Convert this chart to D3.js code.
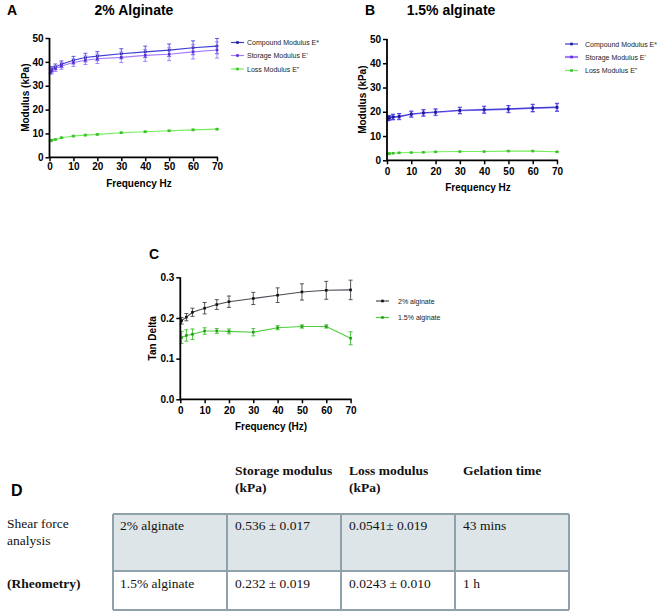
<!DOCTYPE html>
<html><head><meta charset="utf-8">
<script src="https://d3js.org/d3.v7.min.js"></script>
<style>
body{margin:0;background:#fff;}
svg{display:block;}
</style></head>
<body>
<svg id="c" width="661" height="612"></svg>
<script>
// ---------- DATA ----------
const freqAB = [0.5, 1, 2.5, 5, 10, 15, 20, 30, 40, 50, 60, 70];
const aCompound    = [36.3, 37.0, 37.9, 39.0, 40.7, 41.8, 42.4, 43.4, 44.2, 44.9, 45.9, 46.6];
const aCompoundErr = [1.0, 1.0, 1.2, 1.4, 1.6, 1.8, 1.9, 2.1, 2.4, 2.6, 2.9, 3.2];
const aStorage     = [35.8, 36.4, 37.2, 38.3, 39.7, 40.7, 41.3, 41.9, 42.7, 43.2, 44.2, 45.0];
const aStorageErr  = [1.0, 1.1, 1.2, 1.4, 1.6, 1.8, 2.0, 2.2, 2.5, 2.7, 3.0, 3.4];
const aLoss        = [6.9, 7.2, 7.5, 8.2, 8.9, 9.3, 9.6, 10.3, 10.7, 11.1, 11.5, 11.8];
const aLossErr     = [0.2, 0.2, 0.2, 0.3, 0.3, 0.3, 0.3, 0.3, 0.3, 0.3, 0.3, 0.3];

const bCompound    = [17.3, 17.6, 17.9, 18.1, 19.1, 19.6, 19.9, 20.6, 20.9, 21.2, 21.6, 21.9];
const bCompoundErr = [0.9, 0.9, 1.1, 1.2, 1.2, 1.3, 1.3, 1.3, 1.4, 1.4, 1.5, 1.6];
const bStorage     = [17.1, 17.4, 17.7, 17.9, 18.9, 19.4, 19.7, 20.4, 20.7, 21.0, 21.4, 21.7];
const bStorageErr  = [0.9, 0.9, 1.1, 1.2, 1.2, 1.3, 1.3, 1.3, 1.4, 1.4, 1.5, 1.6];
const bLoss        = [2.7, 2.8, 2.9, 3.1, 3.2, 3.3, 3.5, 3.6, 3.6, 3.8, 3.8, 3.5];
const bLossErr     = [0.1, 0.1, 0.1, 0.1, 0.1, 0.1, 0.1, 0.1, 0.1, 0.1, 0.1, 0.1];

const freqC = [0.5, 2.5, 5, 10, 15, 20, 30, 40, 50, 60, 70];
const tan2     = [0.193, 0.202, 0.214, 0.224, 0.233, 0.240, 0.248, 0.256, 0.264, 0.268, 0.269];
const tan2Err  = [0.008, 0.009, 0.010, 0.014, 0.012, 0.014, 0.015, 0.018, 0.020, 0.022, 0.024];
const tan15    = [0.152, 0.157, 0.160, 0.168, 0.168, 0.167, 0.165, 0.176, 0.179, 0.179, 0.150];
const tan15Err = [0.015, 0.014, 0.013, 0.008, 0.006, 0.006, 0.009, 0.005, 0.004, 0.004, 0.016];

const modTicks = [0, 10, 20, 30, 40, 50];
const freqTicks = [0, 10, 20, 30, 40, 50, 60, 70];
const tanTicks = [0.0, 0.1, 0.2, 0.3];
const modLegend = ["Compound Modulus E*", "Storage Modulus E'", "Loss Modulus E\""];
const tanLegend = ["2% alginate", "1.5% alginate"];

const tableHeaders = [["Storage modulus", "(kPa)"], ["Loss modulus", "(kPa)"], ["Gelation time"]];
const tableRowLabels = ["2% alginate", "1.5% alginate"];
const tableStorage = ["0.536 \u00b1 0.017", "0.232 \u00b1 0.019"];
const tableLoss = ["0.0541\u00b1 0.019", "0.0243 \u00b1 0.010"];
const tableGel = ["43 mins", "1 h"];

// ---------- DRAW ----------
const svg = d3.select("#c");
const SANS = "'Liberation Sans', Arial, sans-serif";
const SERIF = "'Liberation Serif', 'Times New Roman', serif";

function panel(o) {
  const g = svg.append("g");
  const x = d3.scaleLinear().domain([0, 70]).range(o.xr);
  const y = d3.scaleLinear().domain(o.yd).range(o.yr);

  // series
  o.series.forEach(s => {
    const pts = s.x.map((fx, i) => ({x: fx, y: s.y[i], e: s.e[i]}));
    const sg = g.append("g");
    sg.append("path").datum(pts)
      .attr("fill", "none").attr("stroke", s.color).attr("stroke-width", 1.1)
      .attr("d", d3.line().x(d => x(d.x)).y(d => y(d.y)));
    const eb = sg.selectAll("g.eb").data(pts).enter().append("g");
    eb.append("line").attr("x1", d => x(d.x)).attr("x2", d => x(d.x))
      .attr("y1", d => y(d.y - d.e)).attr("y2", d => y(d.y + d.e))
      .attr("stroke", s.ecolor).attr("stroke-width", 0.9);
    [-1, 1].forEach(sgn => {
      eb.append("line").attr("x1", d => x(d.x) - 2).attr("x2", d => x(d.x) + 2)
        .attr("y1", d => y(d.y + sgn * d.e)).attr("y2", d => y(d.y + sgn * d.e))
        .attr("stroke", s.ecolor).attr("stroke-width", 0.9);
    });
    sg.selectAll("rect").data(pts).enter().append("rect")
      .attr("x", d => x(d.x) - 1.3).attr("y", d => y(d.y) - 1.3)
      .attr("width", 2.6).attr("height", 2.6).attr("fill", s.mcolor);
  });

  // axes
  const ya = g.append("g").attr("transform", `translate(${o.xr[0]},0)`)
    .call(d3.axisLeft(y).tickValues(o.yTicks).tickSize(4).tickPadding(2).tickFormat(o.yFmt));
  const xa = g.append("g").attr("transform", `translate(0,${o.yr[0]})`)
    .call(d3.axisBottom(x).tickValues(freqTicks).tickSize(4).tickPadding(o.xPad));
  [ya, xa].forEach(a => {
    a.select(".domain").attr("stroke", "#000").attr("stroke-width", 1.8);
    a.selectAll(".tick line").attr("stroke", "#000").attr("stroke-width", 1.5);
    a.selectAll(".tick text").attr("fill", "#000").style("font-family", SANS)
      .style("font-size", "10px").style("font-weight", "bold");
  });
  ya.select(".domain").attr("d", `M0,${o.yr[0]}V${o.yr[1]}`);
  xa.select(".domain").attr("d", `M${o.xr[0]},0H${o.xr[1] + 1}`);

  // labels
  g.append("text").attr("transform", `translate(${o.ylx},${(o.yr[0] + o.yr[1]) / 2}) rotate(-90)`)
    .attr("text-anchor", "middle").attr("dominant-baseline", "central")
    .style("font-family", SANS).style("font-size", "10px").style("font-weight", "bold")
    .text(o.yLabel);
  g.append("text").attr("x", o.xlx).attr("y", o.xly)
    .attr("text-anchor", "middle").attr("dominant-baseline", "central")
    .style("font-family", SANS).style("font-size", "10px").style("font-weight", "bold")
    .text(o.xLabel);

  // legend
  o.legend.forEach((lbl, i) => {
    const s = o.series[i];
    const ly = o.legY[i];
    g.append("line").attr("x1", o.legX).attr("x2", o.legX + 13).attr("y1", ly).attr("y2", ly)
      .attr("stroke", s.color).attr("stroke-width", 1.2);
    g.append("rect").attr("x", o.legX + 5.2).attr("y", ly - 1.3).attr("width", 2.6).attr("height", 2.6)
      .attr("fill", s.mcolor);
    g.append("text").attr("x", o.legTx).attr("y", ly).attr("dominant-baseline", "central")
      .style("font-family", SANS).style("font-size", "7px").attr("fill", "#222").text(lbl);
  });
}

function title(txt, x, y, size, anchor) {
  svg.append("text").attr("x", x).attr("y", y).attr("text-anchor", anchor || "middle")
    .attr("dominant-baseline", "central").style("font-family", SANS)
    .style("font-size", size + "px").style("font-weight", "bold").text(txt);
}

const cComp = "#3b3bd6", mComp = "#1a1a8c";
const cStor = "#a27cff", mStor = "#5a2bd8";
const cLoss = "#72ee5a", mLoss = "#3cc02a";

panel({
  xr: [49.5, 217], yd: [0, 50], yr: [157.3, 38], yTicks: modTicks, yFmt: d3.format("d"),
  xPad: 2, ylx: 25, xlx: 139, xly: 183.5, yLabel: "Modulus (kPa)", xLabel: "Frequency Hz",
  series: [
    {x: freqAB, y: aCompound, e: aCompoundErr, color: cComp, ecolor: "#4a4ae0", mcolor: mComp},
    {x: freqAB, y: aStorage, e: aStorageErr, color: cStor, ecolor: "#9a74ff", mcolor: mStor},
    {x: freqAB, y: aLoss, e: aLossErr, color: cLoss, ecolor: "#66e050", mcolor: mLoss}
  ],
  legend: modLegend, legX: 231, legTx: 247, legY: [42.5, 55.5, 69]
});
panel({
  xr: [387, 557], yd: [0, 50], yr: [160.3, 39], yTicks: modTicks, yFmt: d3.format("d"),
  xPad: 4, ylx: 362, xlx: 478, xly: 187.5, yLabel: "Modulus (kPa)", xLabel: "Frequency Hz",
  series: [
    {x: freqAB, y: bStorage, e: bStorageErr, color: cStor, ecolor: "#9a74ff", mcolor: mStor},
    {x: freqAB, y: bCompound, e: bCompoundErr, color: cComp, ecolor: "#3a3ad8", mcolor: mComp},
    {x: freqAB, y: bLoss, e: bLossErr, color: cLoss, ecolor: "#66e050", mcolor: mLoss}
  ].map((s, i, arr) => s),
  legend: [], legX: 565, legTx: 585, legY: []
});
// legend for B (order compound, storage, loss)
(function () {
  const items = [[cComp, mComp], [cStor, mStor], [cLoss, mLoss]];
  const legY = [44, 57, 70.5];
  modLegend.forEach((lbl, i) => {
    const ly = legY[i];
    svg.append("line").attr("x1", 565).attr("x2", 578).attr("y1", ly).attr("y2", ly)
      .attr("stroke", items[i][0]).attr("stroke-width", i === 1 ? 2.2 : 1.2);
    svg.append("rect").attr("x", 570.2).attr("y", ly - 1.3).attr("width", 2.6).attr("height", 2.6)
      .attr("fill", items[i][1]);
    svg.append("text").attr("x", 585).attr("y", ly).attr("dominant-baseline", "central")
      .style("font-family", SANS).style("font-size", "7px").attr("fill", "#222").text(lbl);
  });
})();

panel({
  xr: [180.3, 350.6], yd: [0, 0.3], yr: [399.3, 277.3], yTicks: tanTicks, yFmt: d3.format(".1f"),
  xPad: 4, ylx: 152, xlx: 271, xly: 426, yLabel: "Tan Delta", xLabel: "Frequency (Hz)",
  series: [
    {x: freqC, y: tan2, e: tan2Err, color: "#4a4a55", ecolor: "#444", mcolor: "#111"},
    {x: freqC, y: tan15, e: tan15Err, color: "#4ccf3a", ecolor: "#3cc02a", mcolor: "#2a9a1c"}
  ],
  legend: tanLegend, legX: 376, legTx: 398, legY: [301, 317.5]
});

title("A", 7, 10, 14, "start");
title("2% Alginate", 134, 10, 14);
title("B", 365, 10, 14, "start");
title("1.5% alginate", 451, 10, 14);
title("C", 149, 254, 14, "start");
title("D", 11, 490, 16, "start");

// ---------- TABLE ----------
const colX = [113, 227, 341, 455, 569];
const rowY = [514, 571, 610];
const tg = svg.append("g");
tg.append("rect").attr("x", colX[0]).attr("y", rowY[0]).attr("width", colX[4] - colX[0])
  .attr("height", rowY[1] - rowY[0]).attr("fill", "#dde5e8");
const bc = "#8fa2ac";
rowY.forEach(yv => tg.append("line").attr("x1", colX[0]).attr("x2", colX[4]).attr("y1", yv).attr("y2", yv)
  .attr("stroke", bc).attr("stroke-width", 2));
colX.forEach(xv => tg.append("line").attr("x1", xv).attr("x2", xv).attr("y1", rowY[0]).attr("y2", rowY[2])
  .attr("stroke", bc).attr("stroke-width", 2));

function ttxt(t, x, y, bold) {
  tg.append("text").attr("x", x).attr("y", y).attr("dominant-baseline", "central")
    .style("font-family", SERIF).style("font-size", "13.5px")
    .style("font-weight", bold ? "bold" : "normal").attr("fill", "#111").text(t);
}
tableHeaders.forEach((h, i) => h.forEach((line, j) => ttxt(line, colX[i + 1] + 8, 470 + j * 17, true)));
ttxt("Shear force", 7, 523, false);
ttxt("analysis", 7, 540, false);
ttxt("(Rheometry)", 7, 583, true);
const rowTextY = [525, 583];
tableRowLabels.forEach((t, i) => {
  ttxt(t, colX[0] + 7, rowTextY[i], false);
  ttxt(tableStorage[i], colX[1] + 8, rowTextY[i], false);
  ttxt(tableLoss[i], colX[2] + 8, rowTextY[i], false);
  ttxt(tableGel[i], colX[3] + 8, rowTextY[i], false);
});
</script>
</body></html>
